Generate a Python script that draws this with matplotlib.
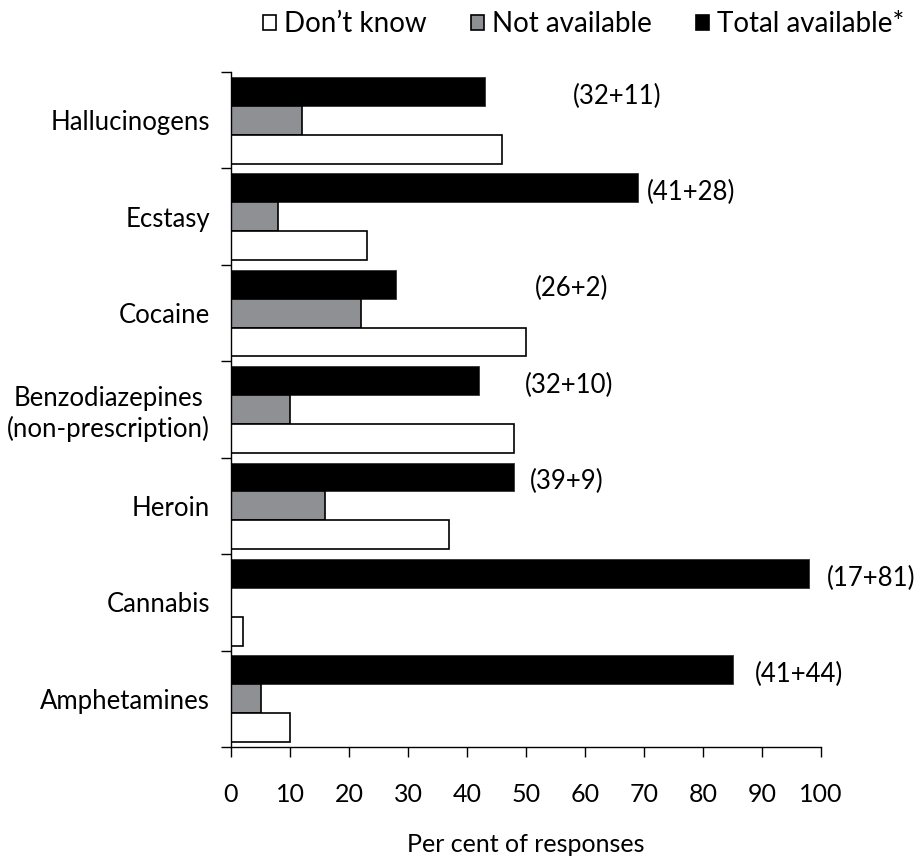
import matplotlib
matplotlib.use("Agg")
import matplotlib.pyplot as plt
from matplotlib.patches import Patch
import numpy as np

plt.rcParams['font.family'] = ['Lato', 'DejaVu Sans']

categories = ["Hallucinogens", "Ecstasy", "Cocaine",
              "Benzodiazepines\n(non-prescription)", "Heroin", "Cannabis", "Amphetamines"]
dont_know = [46, 23, 50, 48, 37, 2, 10]
not_available = [12, 8, 22, 10, 16, 0, 5]
total_available = [43, 69, 28, 42, 48, 98, 85]
avail_part_a = [32, 41, 26, 32, 39, 17, 41]
avail_part_b = [11, 28, 2, 10, 9, 81, 44]

# layout: x position (data units) where each bracket label starts
label_x = [58, 70.5, 51.5, 49.8, 50.7, 101, 88.8]

W, H = 916, 860
fig = plt.figure(figsize=(W / 100, H / 100), dpi=100)
ax = fig.add_axes([231 / W, 1 - 747 / H, (821 - 231) / W, (747 - 72) / H])

n = len(categories)
base = np.arange(n)[::-1]  # top category at highest y
bh = 0.3
ec_lw = 1.2
grey = '#8e9093'

ax.barh(base + 0.8, total_available, height=bh, color='black', edgecolor='#333333', linewidth=0.6)
ax.barh(base + 0.5, not_available, height=bh, color=grey, edgecolor='black', linewidth=ec_lw)
ax.barh(base + 0.2, dont_know, height=bh, color='white', edgecolor='black', linewidth=ec_lw)

for i in range(n):
    ax.text(label_x[i], base[i] + 0.75, f"({avail_part_a[i]}+{avail_part_b[i]})",
            ha='left', va='center', fontsize=18.5, clip_on=False)

ax.set_xlim(0, 100)
ax.set_ylim(0, n)
ax.set_xticks(np.arange(0, 101, 10))
ax.set_yticks(np.arange(0, n + 1))
ax.set_yticklabels([])
ax.set_yticks(base + 0.5, minor=True)
ax.set_yticklabels(categories, minor=True, fontsize=18.5, ha='right', multialignment='center')
ax.tick_params(axis='y', which='minor', length=0, pad=15)
ax.tick_params(axis='y', which='major', length=7, width=1, direction='out')
ax.tick_params(axis='x', length=7, width=1, direction='out', pad=19, labelsize=18)

for s in ['top', 'right']:
    ax.spines[s].set_visible(False)
for s in ['left', 'bottom']:
    ax.spines[s].set_linewidth(1)

ax.set_xlabel("Per cent of responses", fontsize=18, labelpad=19)

handles = [Patch(facecolor='white', edgecolor='black', linewidth=1.2),
           Patch(facecolor=grey, edgecolor='black', linewidth=1.2),
           Patch(facecolor='black', edgecolor='black', linewidth=1.2)]
fig.legend(handles, ["Don\u2019t know", "Not available", "Total available*"],
           loc='upper center', bbox_to_anchor=(584 / W, 1.016), ncol=3, frameon=False,
           fontsize=20, handlelength=0.45, handleheight=0.45, handletextpad=0.3,
           columnspacing=1.6)

fig.savefig("out.png", dpi=100)
